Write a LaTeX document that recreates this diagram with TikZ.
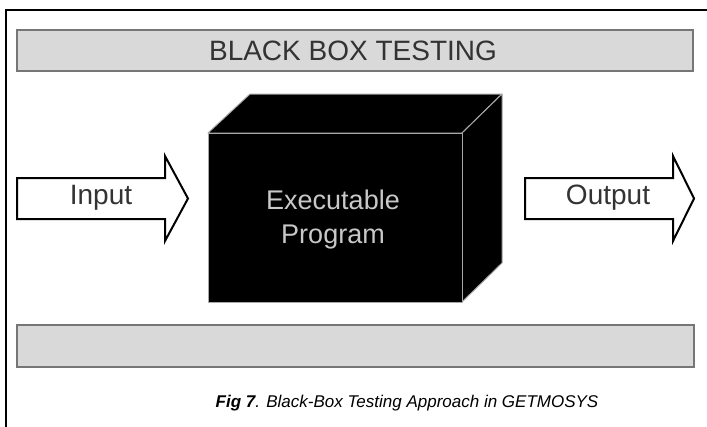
\documentclass[tikz,border=0pt]{standalone}
\usepackage{fontspec}
\setmainfont{Liberation Sans}
\definecolor{barfill}{HTML}{D9D9D9}
\definecolor{barline}{HTML}{767676}
\definecolor{inktext}{HTML}{333333}
\definecolor{cubeedge}{HTML}{A8A8A8}
\definecolor{cubetext}{HTML}{C8C8C8}
\begin{document}
\begin{tikzpicture}[x=1bp,y=-1bp,
  bar/.style={draw=barline, fill=barfill, line width=2bp},
  arrowbody/.style={draw=black, fill=white, line width=2bp, line join=miter},
  biglabel/.style={font=\fontsize{28bp}{32bp}\selectfont, text=inktext, inner sep=0pt},
  cubeface/.style={fill=black, draw=cubeedge, line width=1bp, line join=round}]
  \useasboundingbox (0,0) rectangle (707,426);
  \fill[white] (0,0) rectangle (707,426);

  % outer frame (left and top edges only)
  \draw[line width=2bp, line cap=rect] (6,426) -- (6,9.5) -- (707,9.5);

  % title bar
  \draw[bar] (17,30) rectangle (693,71);
  \node[biglabel] (title) at (353,50.5) {BLACK BOX TESTING};

  % empty bar at the bottom
  \draw[bar] (17,325) rectangle (694,367);

  % input arrow
  \draw[arrowbody] (17,178) -- (165,178) -- (165,156) -- (188,198.5)
    -- (165,241) -- (165,219) -- (17,219) -- cycle;
  \node[biglabel] (input) at (101,198) {Input};

  % output arrow
  \draw[arrowbody] (525,178) -- (673,178) -- (673,156) -- (694,198.5)
    -- (673,241) -- (673,219) -- (525,219) -- cycle;
  \node[biglabel] (output) at (608,198) {Output};

  % the black box: top, side and front faces
  \draw[cubeface] (208,133) -- (250,94) -- (502,94) -- (462,133) -- cycle;
  \draw[cubeface] (462,133) -- (502,94) -- (502,263) -- (462,302) -- cycle;
  \draw[cubeface] (208,133) rectangle (462,302);
  \node[biglabel, text=cubetext, align=center, font=\fontsize{27bp}{34bp}\selectfont]
    (prog) at (333,220) {Executable\\Program};

  % caption
  \node[inner sep=0pt, font=\fontsize{17bp}{20bp}\selectfont\itshape] (caption) at (407,403)
    {\textbf{Fig 7}. Black-Box Testing Approach in GETMOSYS};
\end{tikzpicture}
\end{document}
